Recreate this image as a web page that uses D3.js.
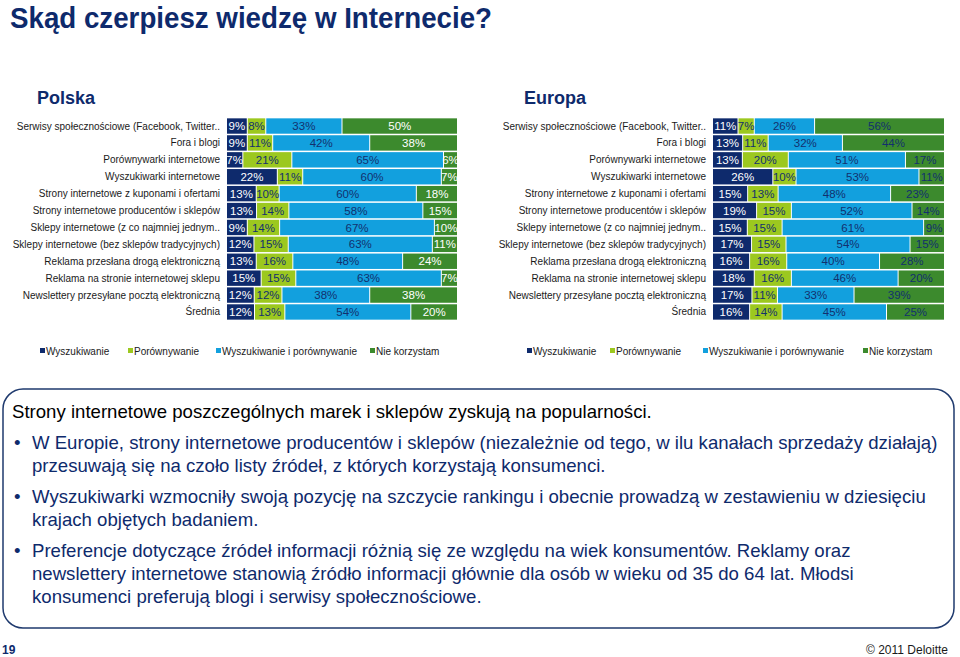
<!DOCTYPE html>
<html><head><meta charset="utf-8">
<script src="https://cdn.jsdelivr.net/npm/d3@7"></script>
<style>
body{margin:0;background:#fff;}
svg{font-family:Arial,"Liberation Sans",sans-serif;}
</style></head><body>
<svg id="c" width="960" height="657"></svg>
<script>
const categories = [
 "Serwisy społecznościowe (Facebook, Twitter..",
 "Fora i blogi",
 "Porównywarki internetowe",
 "Wyszukiwarki internetowe",
 "Strony internetowe z kuponami i ofertami",
 "Strony internetowe producentów i sklepów",
 "Sklepy internetowe (z co najmniej jednym..",
 "Sklepy internetowe (bez sklepów tradycyjnych)",
 "Reklama przesłana drogą elektroniczną",
 "Reklama na stronie internetowej sklepu",
 "Newslettery przesyłane pocztą elektroniczną",
 "Średnia"
];
const seriesNames = ["Wyszukiwanie","Porównywanie","Wyszukiwanie i porównywanie","Nie korzystam"];
// Polska
const plSearch  = [9,9,7,22,13,13,9,12,13,15,12,12];
const plCompare = [8,11,21,11,10,14,14,15,16,15,12,13];
const plBoth    = [33,42,65,60,60,58,67,63,48,63,38,54];
const plNone    = [50,38,6,7,18,15,10,11,24,7,38,20];
// Europa
const euSearch  = [11,13,13,26,15,19,15,17,16,18,17,16];
const euCompare = [7,11,20,10,13,15,15,15,16,16,11,14];
const euBoth    = [26,32,51,53,48,52,61,54,40,46,33,45];
const euNone    = [56,44,17,11,23,14,9,15,28,20,39,25];

const colors = ["#0e2a6c","#9cc81f","#12a0de","#3c8a2d"];

const svg = d3.select("#c");
const navy = "#0e2a6c";

svg.append("text").attr("x",10).attr("y",28).attr("font-size",30).attr("font-weight","bold")
  .attr("textLength",482).attr("lengthAdjust","spacingAndGlyphs")
  .attr("fill",navy).text("Skąd czerpiesz wiedzę w Internecie?");

function chart(opts){
  const {title,titleX,labelX,x0,x1,series,labelColors} = opts;
  svg.append("text").attr("x",titleX).attr("y",104).attr("font-size",18).attr("font-weight","bold")
    .attr("fill",navy).text(title);
  const y = d3.scaleBand().domain(categories).range([118,320]).paddingInner(0.09).paddingOuter(0.02);
  const g = svg.append("g");
  g.selectAll("text.cat").data(categories).join("text")
    .attr("x",labelX).attr("y",d=>y(d)+y.bandwidth()/2).attr("dy","0.35em")
    .attr("text-anchor","end").attr("font-size",10).attr("fill","#1a1a1a").text(d=>d);
  categories.forEach((c,i)=>{
    const vals = series.map(s=>s[i]);
    const tot = d3.sum(vals);
    const x = d3.scaleLinear().domain([0,tot]).range([x0,x1]);
    let acc = 0;
    vals.forEach((v,k)=>{
      const a = acc; acc += v;
      g.append("rect").attr("x",x(a)).attr("y",y(c)).attr("width",Math.max(0,x(acc)-x(a)-1))
        .attr("height",y.bandwidth()).attr("fill",colors[k]);
      g.append("text").attr("x",(x(a)+x(acc)-1)/2).attr("y",y(c)+y.bandwidth()/2).attr("dy","0.36em")
        .attr("text-anchor","middle").attr("font-size",11.5).attr("fill",labelColors[k]).text(v+"%");
    });
  });
}
chart({title:"Polska",titleX:37,labelX:220,x0:227,x1:458,series:[plSearch,plCompare,plBoth,plNone],
  labelColors:["#fff","#13306e","#13306e","#fff"]});
chart({title:"Europa",titleX:524,labelX:706,x0:713,x1:945,series:[euSearch,euCompare,euBoth,euNone],
  labelColors:["#fff","#13306e","#13306e","#13306e"]});

function legend(xs){
  const lg = svg.append("g");
  seriesNames.forEach((n,k)=>{
    lg.append("rect").attr("x",xs[k]).attr("y",348).attr("width",5).attr("height",5).attr("fill",colors[k]);
    lg.append("text").attr("x",xs[k]+6).attr("y",355).attr("font-size",10).attr("fill","#1a1a1a").text(n);
  });
}
legend([40,128,216,370]);
legend([527,610,703,863]);

// text box
svg.append("rect").attr("x",3).attr("y",389).attr("width",951).attr("height",239).attr("rx",20).attr("ry",20)
  .attr("fill","none").attr("stroke","#1f3a6e").attr("stroke-width",1.5);
const tb = svg.append("g").attr("font-size",18.6);
tb.append("text").attr("x",12).attr("y",418).attr("fill","#000")
  .text("Strony internetowe poszczególnych marek i sklepów zyskują na popularności.");
const bullets = [
 ["W Europie, strony internetowe producentów i sklepów (niezależnie od tego, w ilu kanałach sprzedaży działają)","przesuwają się na czoło listy źródeł, z których korzystają konsumenci."],
 ["Wyszukiwarki wzmocniły swoją pozycję na szczycie rankingu i obecnie prowadzą w zestawieniu w dziesięciu","krajach objętych badaniem."],
 ["Preferencje dotyczące źródeł informacji różnią się ze względu na wiek konsumentów. Reklamy oraz","newslettery internetowe stanowią źródło informacji głównie dla osób w wieku od 35 do 64 lat. Młodsi","konsumenci preferują blogi i serwisy społecznościowe."]
];
let yy = 449;
bullets.forEach(b=>{
  tb.append("text").attr("x",14).attr("y",yy).attr("fill",navy).text("•");
  b.forEach((l,j)=>{
    tb.append("text").attr("x",32).attr("y",yy+j*23).attr("fill",navy).text(l);
  });
  yy += b.length*23 + 8;
});

svg.append("text").attr("x",2).attr("y",654).attr("font-size",12).attr("font-weight","bold").attr("fill",navy).text("19");
svg.append("text").attr("x",948).attr("y",654).attr("font-size",12).attr("text-anchor","end").attr("fill","#1a1a1a").text("© 2011 Deloitte");
</script></body></html>
